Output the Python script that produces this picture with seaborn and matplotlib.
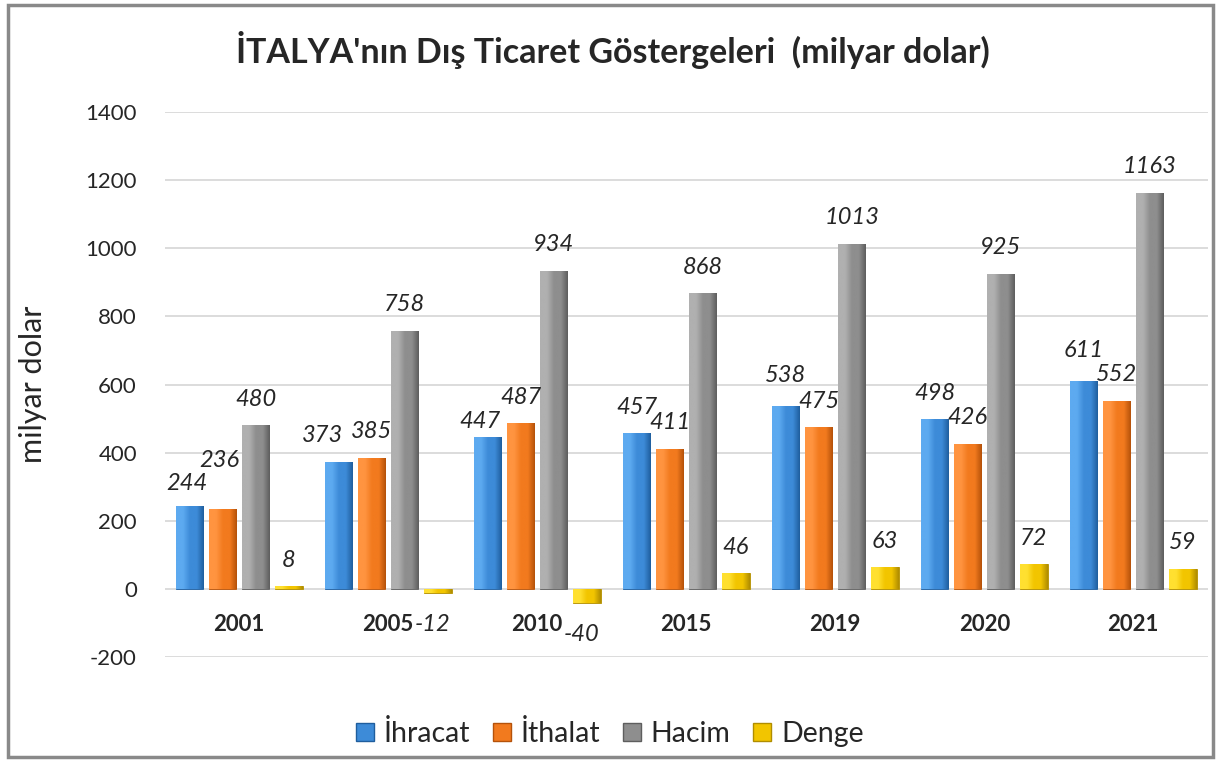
import numpy as np
import matplotlib.pyplot as plt
import matplotlib.patches as mpatches
from matplotlib.colors import LinearSegmentedColormap
import seaborn as sns
import pandas as pd

years = ["2001", "2005", "2010", "2015", "2019", "2020", "2021"]
ihracat = [244, 373, 447, 457, 538, 498, 611]
ithalat = [236, 385, 487, 411, 475, 426, 552]
hacim = [480, 758, 934, 868, 1013, 925, 1163]
denge = [8, -12, -40, 46, 63, 72, 59]

series = ["İhracat", "İthalat", "Hacim", "Denge"]
colors = ["#3D8BD8", "#F27A1E", "#8E8E8E", "#F2C500"]
lights = ["#5DAAF0", "#FF9440", "#B0B0B0", "#FFE030"]
edges = ["#1F5E9E", "#B5520A", "#5E5E5E", "#B08D00"]

# label nudges (pixels) where the original labels were moved by hand
nudge = {("İhracat", 0): (-3, -4), ("İthalat", 0): (-3, 22), ("İhracat", 1): (-16, 0),
         ("İhracat", 2): (-8, -11), ("İhracat", 4): (0, 4), ("İhracat", 6): (0, 4)}

df = pd.DataFrame({
    "Yıl": years * 4,
    "Değer": ihracat + ithalat + hacim + denge,
    "Gösterge": [s for s in series for _ in years],
})

sns.set_theme(style="white")
plt.rcParams['font.family'] = ['Lato', 'DejaVu Sans']
plt.rcParams['axes.unicode_minus'] = False

fig = plt.figure(figsize=(12.2, 7.6), dpi=100)
ax = fig.add_axes([0.135, 0.1355, 0.855, 0.717])

sns.barplot(data=df, x="Yıl", y="Değer", hue="Gösterge", palette=colors,
            width=0.89, gap=0.18, ax=ax, legend=False, saturation=1)
xlim = ax.get_xlim()

grad = np.linspace(0, 1, 64).reshape(1, -1)
px = 0.72  # points per pixel at dpi 100
for s, cont, c, lc, ec in zip(series, ax.containers, colors, lights, edges):
    cmap = LinearSegmentedColormap.from_list("g", [lc, lc, c, c, ec])
    for bar in cont:
        bar.set_edgecolor(ec)
        bar.set_linewidth(0.6)
        x0, y0 = bar.get_x(), bar.get_y()
        x1, y1 = x0 + bar.get_width(), y0 + bar.get_height()
        im = ax.imshow(grad, extent=[x0, x1, min(y0, y1), max(y0, y1)], aspect="auto",
                       cmap=cmap, zorder=bar.get_zorder() + 0.1, interpolation="bilinear")
        im.set_clip_path(bar)
    for i, (bar, v) in enumerate(zip(cont, cont.datavalues)):
        x = bar.get_x() + bar.get_width() / 2
        dx, dy = nudge.get((s, i), (0, 0))
        if v >= 0:
            off = (dx * px, (26 + dy) * px)
        else:
            off = ((dx - 5) * px, -32 * px)
        ax.annotate(f"{v:g}", (x, v), xytext=off, textcoords="offset points",
                    ha="center", va="center", fontsize=17, style="italic")

ax.set_xlim(xlim)
ax.set_ylim(-200, 1400)
ax.set_yticks(range(-200, 1401, 200))
ax.yaxis.grid(True, color="#D9D9D9", linewidth=1.3)
ax.set_axisbelow(True)
ax.tick_params(axis="y", length=0, pad=20, labelsize=16)
ax.set_xticks([])
ax.set_xlabel("")
ax.set_ylabel("milyar dolar", fontsize=22, labelpad=28)
for sp in ax.spines.values():
    sp.set_visible(False)

for i, y in enumerate(years):
    ax.text(i, -105, y, ha="center", va="center", fontsize=16, fontweight="bold")

fig.text(0.502, 0.934, "İTALYA'nın Dış Ticaret Göstergeleri  (milyar dolar)",
         ha="center", va="center", fontsize=24.5, fontweight="bold")

handles = [mpatches.Patch(facecolor=c, edgecolor=e, label=s)
           for s, c, e in zip(series, colors, edges)]
fig.legend(handles=handles, loc="center", bbox_to_anchor=(0.5, 0.035), ncol=4,
           frameon=False, fontsize=20.5, handlelength=0.62, handleheight=0.62,
           handletextpad=0.35, columnspacing=0.8)

fig.patches.append(mpatches.Rectangle((0.0066, 0.004), 0.988, 0.99, transform=fig.transFigure,
                                      fill=False, edgecolor="#898989", linewidth=2.5))

fig.savefig("out.png", dpi=100)
